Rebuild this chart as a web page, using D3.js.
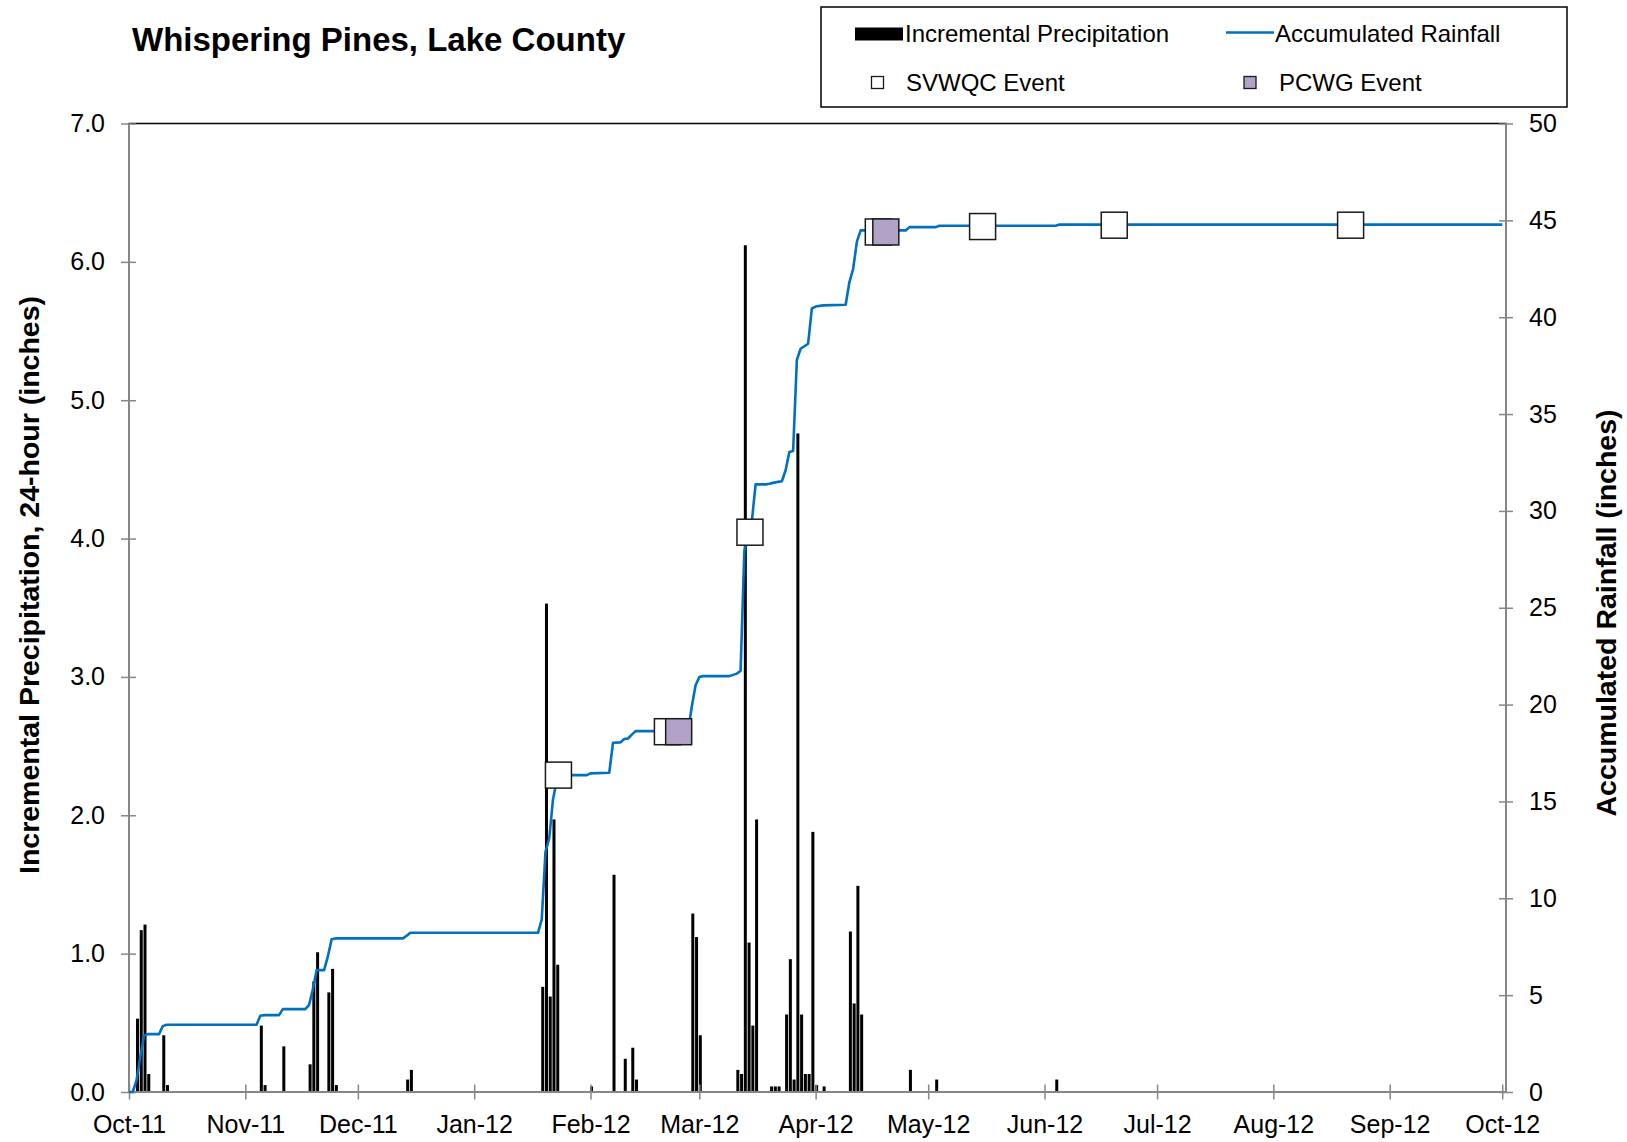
<!DOCTYPE html>
<html>
<head>
<meta charset="utf-8">
<script src="https://cdn.jsdelivr.net/npm/d3@7"></script>
<style>
  body { margin: 0; background: #fff; }
  svg { font-family: "Liberation Sans", Arial, sans-serif; }
</style>
</head>
<body>
<div id="chart"></div>
<script>
// data +++++++++++++++++++++++++++++++++++++++++++
// daily incremental precipitation, inches (left axis)
const precipitation = [
  ["2011-10-03", 0.53], ["2011-10-04", 1.17], ["2011-10-05", 1.21], ["2011-10-06", 0.13],
  ["2011-10-10", 0.41], ["2011-10-11", 0.05],
  ["2011-11-05", 0.48], ["2011-11-06", 0.05], ["2011-11-11", 0.33], ["2011-11-18", 0.20],
  ["2011-11-19", 0.80], ["2011-11-20", 1.01], ["2011-11-23", 0.72], ["2011-11-24", 0.89],
  ["2011-11-25", 0.05],
  ["2011-12-14", 0.09], ["2011-12-15", 0.16],
  ["2012-01-19", 0.76], ["2012-01-20", 3.53], ["2012-01-21", 0.69], ["2012-01-22", 1.97],
  ["2012-01-23", 0.92],
  ["2012-02-01", 0.04], ["2012-02-07", 1.57], ["2012-02-10", 0.24], ["2012-02-12", 0.32],
  ["2012-02-13", 0.09], ["2012-02-28", 1.29], ["2012-02-29", 1.12],
  ["2012-03-01", 0.41], ["2012-03-11", 0.16], ["2012-03-12", 0.13], ["2012-03-13", 6.12],
  ["2012-03-14", 1.08], ["2012-03-15", 0.48], ["2012-03-16", 1.97], ["2012-03-20", 0.04],
  ["2012-03-21", 0.04], ["2012-03-22", 0.04], ["2012-03-24", 0.56], ["2012-03-25", 0.96],
  ["2012-03-26", 0.09], ["2012-03-27", 4.76], ["2012-03-28", 0.56], ["2012-03-29", 0.13],
  ["2012-03-30", 0.13], ["2012-03-31", 1.88],
  ["2012-04-01", 0.05], ["2012-04-03", 0.04], ["2012-04-10", 1.16], ["2012-04-11", 0.64],
  ["2012-04-12", 1.49], ["2012-04-13", 0.56], ["2012-04-26", 0.16],
  ["2012-05-03", 0.09],
  ["2012-06-04", 0.09]
];

// accumulated rainfall, inches (right axis)
const accumulated = [
  ["2011-10-01", 0], ["2011-10-02", 0], ["2011-10-03", 0.6], ["2011-10-04", 1.8],
  ["2011-10-05", 2.9], ["2011-10-06", 2.99], ["2011-10-09", 2.99], ["2011-10-10", 3.4],
  ["2011-10-11", 3.47], ["2011-11-04", 3.47], ["2011-11-05", 3.94], ["2011-11-06", 3.97],
  ["2011-11-10", 3.97], ["2011-11-11", 4.28], ["2011-11-17", 4.28], ["2011-11-18", 4.5],
  ["2011-11-19", 5.3], ["2011-11-20", 6.29], ["2011-11-22", 6.29], ["2011-11-23", 7.0],
  ["2011-11-24", 7.88], ["2011-11-25", 7.93], ["2011-12-13", 7.93], ["2011-12-14", 8.07],
  ["2011-12-15", 8.22], ["2012-01-18", 8.22], ["2012-01-19", 8.9], ["2012-01-20", 12.4],
  ["2012-01-21", 13.1], ["2012-01-22", 15.1], ["2012-01-23", 16.1], ["2012-01-24", 16.36],
  ["2012-01-31", 16.36], ["2012-02-01", 16.45], ["2012-02-06", 16.48], ["2012-02-07", 18.03],
  ["2012-02-09", 18.05], ["2012-02-10", 18.22], ["2012-02-11", 18.25], ["2012-02-12", 18.45],
  ["2012-02-13", 18.63], ["2012-02-27", 18.63], ["2012-02-28", 19.9], ["2012-02-29", 21.0],
  ["2012-03-01", 21.42], ["2012-03-02", 21.47], ["2012-03-09", 21.47], ["2012-03-11", 21.6],
  ["2012-03-12", 21.75], ["2012-03-13", 27.9], ["2012-03-14", 28.98], ["2012-03-15", 29.46],
  ["2012-03-16", 31.37], ["2012-03-19", 31.37], ["2012-03-20", 31.42], ["2012-03-21", 31.46],
  ["2012-03-22", 31.5], ["2012-03-23", 31.53], ["2012-03-24", 32.1], ["2012-03-25", 33.04],
  ["2012-03-26", 33.09], ["2012-03-27", 37.8], ["2012-03-28", 38.37], ["2012-03-29", 38.5],
  ["2012-03-30", 38.63], ["2012-03-31", 40.45], ["2012-04-01", 40.55], ["2012-04-03", 40.61],
  ["2012-04-09", 40.64], ["2012-04-10", 41.8], ["2012-04-11", 42.5], ["2012-04-12", 43.9],
  ["2012-04-13", 44.48], ["2012-04-25", 44.48], ["2012-04-26", 44.65], ["2012-05-03", 44.65],
  ["2012-05-04", 44.72], ["2012-06-04", 44.72], ["2012-06-05", 44.78], ["2012-10-01", 44.78]
];

// sampling events (date with hour, accumulated rainfall)
const svwqcEvents = [
  ["2012-01-23T11", 16.36], ["2012-02-21T12", 18.6], ["2012-03-14T12", 28.9],
  ["2012-04-17T17", 44.4], ["2012-05-15T12", 44.68], ["2012-06-19T14", 44.75],
  ["2012-08-21T14", 44.75]
];
const pcwgEvents = [
  ["2012-02-24T12", 18.6], ["2012-04-19T17", 44.4]
];

const leftTicks = [0, 1, 2, 3, 4, 5, 6, 7];
const rightTicks = [0, 5, 10, 15, 20, 25, 30, 35, 40, 45, 50];
const xDomain = ["2011-10-01", "2012-10-02"];
// data -------------------------------------------

const width = 1627;
const height = 1142;
const plot = { left: 129, right: 1506, top: 123.5, bottom: 1092 };

const axisGray = "#868686";
const lineBlue = "#0070C0";
const pcwgFill = "#B3A2C7";
const markerSize = 26;

const parseDay = d3.timeParse("%Y-%m-%d");
const parseHour = d3.timeParse("%Y-%m-%dT%H");

const svg = d3.select("#chart")
  .append("svg")
  .attr("width", width)
  .attr("height", height);

// scales
const x = d3.scaleTime()
  .domain(xDomain.map(parseDay))
  .range([plot.left, plot.right]);
const yLeft = d3.scaleLinear().domain([0, 7]).range([plot.bottom, plot.top]);
const yRight = d3.scaleLinear().domain([0, 50]).range([plot.bottom, plot.top]);

// plot area border (black top edge shows, axes sit on the rest)
svg.append("rect")
  .attr("x", plot.left)
  .attr("y", plot.top)
  .attr("width", plot.right - plot.left)
  .attr("height", plot.bottom - plot.top)
  .attr("fill", "none")
  .attr("stroke", "#000")
  .attr("stroke-width", 1.5);

// bars
svg.append("g").attr("class", "bars")
  .selectAll("rect")
  .data(precipitation)
  .enter()
  .append("rect")
  .attr("x", d => x(parseDay(d[0])) - 0.5)
  .attr("y", d => yLeft(d[1]))
  .attr("width", 3)
  .attr("height", d => yLeft(0) - yLeft(d[1]))
  .attr("fill", "#000");

// axes
function styleAxis(g, lineAttrs) {
  g.select(".domain").remove();
  g.selectAll(".tick line")
    .attr("stroke", axisGray)
    .attr("stroke-width", 1.5)
    .attr(lineAttrs[0], lineAttrs[1])
    .attr(lineAttrs[2], lineAttrs[3]);
  g.selectAll(".tick text")
    .attr("fill", "#000")
    .style("font-size", "25px");
}

const xAxis = d3.axisBottom(x)
  .ticks(d3.timeMonth.every(1))
  .tickFormat(d3.timeFormat("%b-%y"))
  .tickSize(0)
  .tickPadding(23);

svg.append("g")
  .attr("transform", `translate(0,${plot.bottom})`)
  .call(xAxis)
  .call(g => styleAxis(g, ["y1", -7.5, "y2", 7.5]));

const leftAxis = d3.axisLeft(yLeft)
  .tickValues(leftTicks)
  .tickFormat(d3.format(".1f"))
  .tickSize(0)
  .tickPadding(24);

svg.append("g")
  .attr("transform", `translate(${plot.left},0)`)
  .call(leftAxis)
  .call(g => styleAxis(g, ["x1", -8, "x2", 7]));

const rightAxis = d3.axisRight(yRight)
  .tickValues(rightTicks)
  .tickFormat(d3.format("d"))
  .tickSize(0)
  .tickPadding(23);

svg.append("g")
  .attr("transform", `translate(${plot.right},0)`)
  .call(rightAxis)
  .call(g => styleAxis(g, ["x1", -7, "x2", 7]));

// axis lines
svg.append("g")
  .attr("stroke", axisGray)
  .attr("stroke-width", 2)
  .selectAll("line")
  .data([
    [plot.left, plot.top, plot.left, plot.bottom],
    [plot.right, plot.top, plot.right, plot.bottom],
    [plot.left, plot.bottom, plot.right, plot.bottom]
  ])
  .enter()
  .append("line")
  .attr("x1", d => d[0]).attr("y1", d => d[1])
  .attr("x2", d => d[2]).attr("y2", d => d[3]);

// accumulated rainfall line
const line = d3.line()
  .x(d => x(parseDay(d[0])))
  .y(d => yRight(d[1]));

svg.append("path")
  .datum(accumulated)
  .attr("d", line)
  .attr("fill", "none")
  .attr("stroke", lineBlue)
  .attr("stroke-width", 2.6)
  .attr("stroke-linejoin", "round");

// event markers
function drawMarkers(data, fill) {
  svg.append("g")
    .selectAll("rect")
    .data(data)
    .enter()
    .append("rect")
    .attr("x", d => x(parseHour(d[0])) - markerSize / 2)
    .attr("y", d => yRight(d[1]) - markerSize / 2)
    .attr("width", markerSize)
    .attr("height", markerSize)
    .attr("fill", fill)
    .attr("stroke", "#1a1a1a")
    .attr("stroke-width", 1.5);
}
drawMarkers(svwqcEvents, "#fff");
drawMarkers(pcwgEvents, pcwgFill);

// title
svg.append("text")
  .attr("x", 132)
  .attr("y", 51)
  .attr("font-size", "33px")
  .attr("font-weight", "bold")
  .text("Whispering Pines, Lake County");

// axis titles
svg.append("text")
  .attr("transform", "translate(39,585) rotate(-90)")
  .attr("text-anchor", "middle")
  .attr("font-size", "28.5px")
  .attr("font-weight", "bold")
  .text("Incremental Precipitation, 24-hour (inches)");

svg.append("text")
  .attr("transform", "translate(1616,613) rotate(-90)")
  .attr("text-anchor", "middle")
  .attr("font-size", "28.5px")
  .attr("font-weight", "bold")
  .text("Accumulated Rainfall (inches)");

// legend
const legend = svg.append("g").attr("class", "legend");
legend.append("rect")
  .attr("x", 821).attr("y", 7)
  .attr("width", 746).attr("height", 100)
  .attr("fill", "#fff")
  .attr("stroke", "#000")
  .attr("stroke-width", 1.5);

legend.append("rect")
  .attr("x", 855).attr("y", 27.5)
  .attr("width", 48).attr("height", 13)
  .attr("fill", "#000");
legend.append("line")
  .attr("x1", 1226).attr("x2", 1274)
  .attr("y1", 32.5).attr("y2", 32.5)
  .attr("stroke", lineBlue)
  .attr("stroke-width", 2.5);
legend.append("rect")
  .attr("x", 871.5).attr("y", 76.5)
  .attr("width", 12).attr("height", 12)
  .attr("fill", "#fff")
  .attr("stroke", "#1a1a1a")
  .attr("stroke-width", 1.3);
legend.append("rect")
  .attr("x", 1244).attr("y", 76.5)
  .attr("width", 12).attr("height", 12)
  .attr("fill", pcwgFill)
  .attr("stroke", "#1a1a1a")
  .attr("stroke-width", 1.3);

const legendLabels = [
  ["Incremental Precipitation", 905, 42],
  ["Accumulated Rainfall", 1275, 42],
  ["SVWQC Event", 906, 91],
  ["PCWG Event", 1279, 91]
];
legend.selectAll("text.label")
  .data(legendLabels)
  .enter()
  .append("text")
  .attr("class", "label")
  .attr("x", d => d[1])
  .attr("y", d => d[2])
  .attr("font-size", "24px")
  .text(d => d[0]);
</script>
</body>
</html>
